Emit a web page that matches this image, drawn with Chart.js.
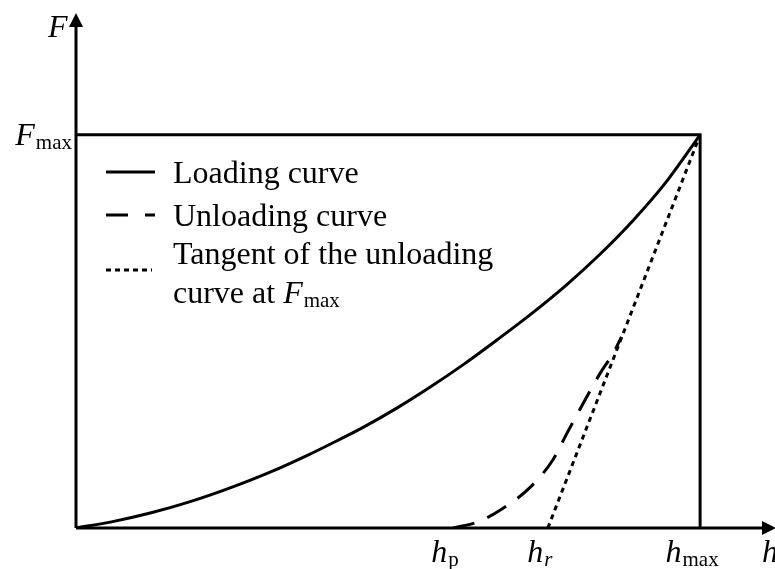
<!DOCTYPE html>
<html>
<head>
<meta charset="utf-8">
<script src="https://cdn.jsdelivr.net/npm/chart.js@4.4.1/dist/chart.umd.min.js"></script>
<style>
  html, body { margin: 0; padding: 0; background: #fff; }
  #wrap { width: 775px; height: 569px; }
</style>
</head>
<body>
<div id="wrap"><canvas id="mainChart" width="775" height="569"></canvas></div>
<script>
// ================= DATA =================
// h scaled so h_max = 10, F scaled so F_max = 10
const hMax = 10;
const fMax = 10;
const hP = 6.04;
const hR = 7.56;

const loadH = [0, 0.55, 1.19, 1.83, 2.47, 3.11, 3.75, 4.07, 4.60, 5.14, 5.67, 6.20, 6.75, 7.32, 7.87, 8.40, 8.93, 9.47, 10];
const loadF = [0, 0.15, 0.38, 0.67, 1.02, 1.42, 1.88, 2.13, 2.56, 3.05, 3.58, 4.15, 4.79, 5.48, 6.20, 6.97, 7.83, 8.83, 10];

const unloadH = [6.04, 6.43, 6.80, 7.28, 7.64, 7.87, 8.13, 8.40, 8.61, 8.74];
const unloadF = [0, 0.15, 0.46, 1.04, 1.73, 2.42, 3.18, 3.94, 4.45, 4.86];

const tangentH = [hR, hMax];
const tangentF = [0, fMax];

const frameH = [0, hMax, hMax];
const frameF = [fMax, fMax, 0];

// tick labels: base letter + subscript
const xTickValues = [hP, hR, hMax];
const xTickSubs = ['p', 'r', 'max'];
const xTickSubItalic = [false, true, false];
const yTickValues = [fMax];
const yTickSubs = ['max'];

const legendLabels = ['Loading curve', 'Unloading curve', 'Tangent of the unloading', 'curve at '];

// ================= HELPERS =================
const SERIF = '"Liberation Serif", "Times New Roman", serif';
const BIG = 32;
const SMALL = 21;

function pts(xs, ys) {
    return xs.map((x, i) => ({ x: x, y: ys[i] }));
}

function symbolWidth(ctx, base, sub, subItalic) {
    ctx.font = `italic ${BIG}px ${SERIF}`;
    const w1 = ctx.measureText(base).width;
    ctx.font = `${subItalic ? 'italic ' : ''}${SMALL}px ${SERIF}`;
    return w1 + 1 + ctx.measureText(sub).width;
}

// italic letter with a smaller subscript, starting at x
function drawSymbol(ctx, base, sub, x, y, subItalic) {
    ctx.font = `italic ${BIG}px ${SERIF}`;
    ctx.fillText(base, x, y);
    const w1 = ctx.measureText(base).width;
    ctx.font = `${subItalic ? 'italic ' : ''}${SMALL}px ${SERIF}`;
    ctx.fillText(sub, x + w1 + 1, y + 4);
}

// ================= AXES / LABELS / LEGEND PLUGIN =================
const decorPlugin = {
    id: 'decor',
    afterDatasetsDraw(chart) {
        const ctx = chart.ctx;
        const xs = chart.scales.x;
        const ys = chart.scales.y;
        const area = chart.chartArea;
        const x0 = xs.getPixelForValue(0);
        const y0 = ys.getPixelForValue(0);

        ctx.save();
        ctx.strokeStyle = '#000';
        ctx.fillStyle = '#000';
        ctx.lineWidth = 3;
        ctx.setLineDash([]);

        // axis lines
        ctx.beginPath();
        ctx.moveTo(x0, y0);
        ctx.lineTo(area.right - 10, y0);
        ctx.moveTo(x0, y0);
        ctx.lineTo(x0, area.top + 10);
        ctx.stroke();

        // arrow heads
        ctx.beginPath();
        ctx.moveTo(area.right + 1, y0);
        ctx.lineTo(area.right - 13, y0 - 7);
        ctx.lineTo(area.right - 13, y0 + 7);
        ctx.closePath();
        ctx.fill();
        ctx.beginPath();
        ctx.moveTo(x0, area.top);
        ctx.lineTo(x0 - 7, area.top + 14);
        ctx.lineTo(x0 + 7, area.top + 14);
        ctx.closePath();
        ctx.fill();

        ctx.textBaseline = 'alphabetic';
        ctx.textAlign = 'left';

        // x tick labels
        xTickValues.forEach((v, i) => {
            const w = symbolWidth(ctx, 'h', xTickSubs[i], xTickSubItalic[i]);
            const cx = xs.getPixelForValue(v) - 8;
            drawSymbol(ctx, 'h', xTickSubs[i], cx - w / 2, y0 + 34, xTickSubItalic[i]);
        });

        // y tick labels
        yTickValues.forEach((v, i) => {
            const w = symbolWidth(ctx, 'F', yTickSubs[i], false);
            drawSymbol(ctx, 'F', yTickSubs[i], x0 - 4 - w, ys.getPixelForValue(v) + 10, false);
        });

        // axis names
        ctx.font = `italic ${BIG}px ${SERIF}`;
        ctx.fillText('h', area.right - 13, y0 + 34);
        ctx.fillText('F', x0 - 28, area.top + 24);

        // legend
        const lx = x0 + 30;
        const lw = 49;
        const tx = x0 + 97;
        ctx.lineWidth = 3;
        ctx.beginPath();
        ctx.setLineDash([]);
        ctx.moveTo(lx, 172);
        ctx.lineTo(lx + lw, 172);
        ctx.stroke();
        ctx.beginPath();
        ctx.setLineDash([22, 17]);
        ctx.moveTo(lx, 215);
        ctx.lineTo(lx + lw, 215);
        ctx.stroke();
        ctx.beginPath();
        ctx.setLineDash([5, 4]);
        ctx.moveTo(lx, 270);
        ctx.lineTo(lx + 46, 270);
        ctx.stroke();
        ctx.setLineDash([]);

        ctx.font = `${BIG}px ${SERIF}`;
        ctx.fillText(legendLabels[0], tx, 183);
        ctx.fillText(legendLabels[1], tx, 226);
        ctx.fillText(legendLabels[2], tx, 264);
        ctx.fillText(legendLabels[3], tx, 303);
        const cw = ctx.measureText(legendLabels[3]).width;
        drawSymbol(ctx, 'F', 'max', tx + cw, 303, false);

        ctx.restore();
    }
};

// ================= CHART =================
function drawChart() {
    const ctx = document.getElementById('mainChart').getContext('2d');
    new Chart(ctx, {
        type: 'scatter',
        data: {
            datasets: [
                { label: 'Frame', data: pts(frameH, frameF), showLine: true, borderColor: '#000', borderWidth: 3, pointRadius: 0, borderCapStyle: 'square' },
                { label: 'Loading curve', data: pts(loadH, loadF), showLine: true, borderColor: '#000', borderWidth: 3, pointRadius: 0, cubicInterpolationMode: 'monotone' },
                { label: 'Unloading curve', data: pts(unloadH, unloadF), showLine: true, borderColor: '#000', borderWidth: 3, pointRadius: 0, borderDash: [22, 14], cubicInterpolationMode: 'monotone' },
                { label: 'Tangent', data: pts(tangentH, tangentF), showLine: true, borderColor: '#000', borderWidth: 3, pointRadius: 0, borderDash: [5, 4.5] }
            ]
        },
        options: {
            responsive: false,
            animation: false,
            devicePixelRatio: 1,
            layout: { padding: { left: 76, right: 0, top: 13, bottom: 41 } },
            scales: {
                x: { type: 'linear', display: false, min: 0, max: 11.2 },
                y: { type: 'linear', display: false, min: 0, max: 13.1 }
            },
            plugins: { legend: { display: false }, tooltip: { enabled: false } }
        },
        plugins: [decorPlugin]
    });
}

Promise.all([
    document.fonts.load(`${BIG}px "Liberation Serif"`),
    document.fonts.load(`italic ${BIG}px "Liberation Serif"`)
]).then(drawChart, drawChart);
</script>
</body>
</html>
